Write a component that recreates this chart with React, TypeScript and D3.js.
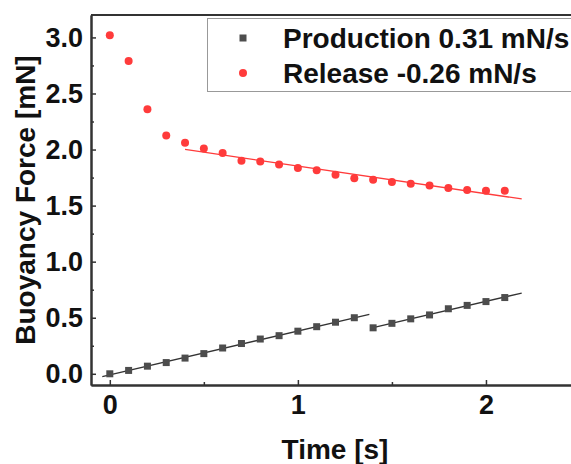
import React, { createRef, Component } from 'react';
import * as d3 from 'd3';

const prodTime1 = [0, 0.1, 0.2, 0.3, 0.4, 0.5, 0.6, 0.7, 0.8, 0.9, 1.0, 1.1, 1.2, 1.3];
const prodForce1 = [0.0, 0.03, 0.068, 0.1, 0.14, 0.18, 0.23, 0.27, 0.31, 0.34, 0.38, 0.42, 0.46, 0.5];
const prodTime2 = [1.4, 1.5, 1.6, 1.7, 1.8, 1.9, 2.0, 2.1];
const prodForce2 = [0.41, 0.45, 0.49, 0.525, 0.58, 0.61, 0.644, 0.68];

const relTime = [0, 0.1, 0.2, 0.3, 0.4, 0.5, 0.6, 0.7, 0.8, 0.9, 1.0, 1.1, 1.2, 1.3, 1.4, 1.5, 1.6, 1.7, 1.8, 1.9, 2.0, 2.1];
const relForce = [3.02, 2.79, 2.36, 2.125, 2.06, 2.01, 1.97, 1.9, 1.893, 1.866, 1.835, 1.816, 1.775, 1.745, 1.73, 1.71, 1.695, 1.68, 1.656, 1.64, 1.632, 1.632];

// x-ranges over which the linear fits were drawn
const prodFit1 = [-0.04, 1.38];
const prodFit2 = [1.4, 2.19];
const relFit = [0.4, 2.19];
const relFitStart = 0.4; // fit uses release points from here on

const legendLabels = ['Production 0.31 mN/s', 'Release -0.26 mN/s'];
const yTicks = [0, 0.5, 1, 1.5, 2, 2.5, 3];
const yMinor = [0.25, 0.75, 1.25, 1.75, 2.25, 2.75];
const xTicks = [0, 1, 2];
const xMinor = [0.5, 1.5];

const FONT = '"Liberation Sans", Arial, sans-serif';
const PROD = '#4d4d4d';
const REL = '#ff3b3b';

function linFit(xs: number[], ys: number[]) {
  const mx = d3.mean(xs) as number;
  const my = d3.mean(ys) as number;
  let num = 0, den = 0;
  xs.forEach((x, i) => {
    num += (x - mx) * (ys[i] - my);
    den += (x - mx) * (x - mx);
  });
  const slope = num / den;
  return (x: number) => my + slope * (x - mx);
}

class BuoyancyChart extends Component {
  ref = createRef<SVGSVGElement>();

  componentDidMount() {
    document.body.style.margin = '0';
    const width = 571, height = 464;
    const svg = d3.select(this.ref.current).attr('width', width).attr('height', height);
    svg.selectAll('*').remove();

    const x = d3.scaleLinear().domain([-0.1, 2.5]).range([91, 580]);
    const y = d3.scaleLinear().domain([-0.1, 3.2]).range([385, 15]);

    // frame top / right
    svg.append('line').attr('x1', 91).attr('x2', 580).attr('y1', 15).attr('y2', 15)
      .attr('stroke', '#333').attr('stroke-width', 2);
    svg.append('line').attr('x1', 580).attr('x2', 580).attr('y1', 15).attr('y2', 385)
      .attr('stroke', '#333').attr('stroke-width', 2);

    const styleAxis = (g: any) => {
      g.select('.domain').attr('stroke', '#333').attr('stroke-width', 2);
      g.selectAll('.tick line').attr('stroke', '#333').attr('stroke-width', 1.5);
      g.selectAll('.tick text').attr('font-family', FONT).attr('font-weight', 'bold')
        .attr('font-size', 27).attr('fill', '#111');
    };

    const gy = svg.append('g').attr('transform', 'translate(91,0)')
      .call(d3.axisLeft(y).tickValues(yTicks).tickFormat(d3.format('.1f')).tickSize(-5).tickSizeOuter(0).tickPadding(8));
    styleAxis(gy);
    const gy2 = svg.append('g').attr('transform', 'translate(91,0)')
      .call(d3.axisLeft(y).tickValues(yMinor).tickFormat(() => '').tickSize(-3).tickSizeOuter(0));
    styleAxis(gy2);

    const gx = svg.append('g').attr('transform', 'translate(0,385)')
      .call(d3.axisBottom(x).tickValues(xTicks).tickFormat(d3.format('d')).tickSize(-5).tickSizeOuter(0).tickPadding(10));
    styleAxis(gx);
    const gx2 = svg.append('g').attr('transform', 'translate(0,385)')
      .call(d3.axisBottom(x).tickValues(xMinor).tickFormat(() => '').tickSize(-3).tickSizeOuter(0));
    styleAxis(gx2);

    // axis titles
    svg.append('text')
      .attr('x', 335).attr('y', 459)
      .attr('text-anchor', 'middle')
      .attr('font-family', FONT).attr('font-weight', 'bold').attr('font-size', 28).attr('fill', '#111')
      .text('Time [s]');
    svg.append('text')
      .attr('transform', 'translate(35,200) rotate(-90)')
      .attr('text-anchor', 'middle')
      .attr('font-family', FONT).attr('font-weight', 'bold').attr('font-size', 28).attr('fill', '#111')
      .text('Buoyancy Force [mN]');

    // fit lines
    const line = d3.line<number>().x(d => x(d));
    const drawFit = (xs: number[], ys: number[], range: number[], color: string) => {
      const f = linFit(xs, ys);
      svg.append('path')
        .datum(range)
        .attr('d', line.y(d => y(f(d))) as any)
        .attr('fill', 'none').attr('stroke', color).attr('stroke-width', 1.3);
    };
    drawFit(prodTime1, prodForce1, prodFit1, '#333');
    drawFit(prodTime2, prodForce2, prodFit2, '#333');
    const relIdx = relTime.map((t, i) => i).filter(i => relTime[i] >= relFitStart);
    drawFit(relIdx.map(i => relTime[i]), relIdx.map(i => relForce[i]), relFit, REL);

    // production squares
    const prodPts = [...prodTime1.map((t, i) => [t, prodForce1[i]]), ...prodTime2.map((t, i) => [t, prodForce2[i]])];
    svg.append('g').selectAll('rect').data(prodPts).enter().append('rect')
      .attr('x', d => x(d[0]) - 3.5).attr('y', d => y(d[1]) - 3.5)
      .attr('width', 7).attr('height', 7).attr('fill', PROD);

    // release circles
    svg.append('g').selectAll('circle').data(relTime.map((t, i) => [t, relForce[i]])).enter().append('circle')
      .attr('cx', d => x(d[0])).attr('cy', d => y(d[1])).attr('r', 4).attr('fill', REL);

    // legend
    const lg = svg.append('g');
    lg.append('rect').attr('x', 207.5).attr('y', 18.5).attr('width', 400).attr('height', 73)
      .attr('fill', 'white').attr('stroke', '#999').attr('stroke-width', 1);
    lg.append('rect').attr('x', 243 - 3.5).attr('y', 38 - 3.5).attr('width', 7).attr('height', 7).attr('fill', PROD);
    lg.append('circle').attr('cx', 243).attr('cy', 73).attr('r', 4).attr('fill', REL);
    legendLabels.forEach((lab, i) => {
      lg.append('text')
        .attr('x', 283).attr('y', 48 + i * 35)
        .attr('font-family', FONT).attr('font-weight', 'bold').attr('font-size', 28).attr('fill', '#111')
        .text(lab);
    });
  }

  render() {
    return <svg ref={this.ref} style={{ display: 'block' }} />;
  }
}

export default function App() {
  return <BuoyancyChart />;
}
